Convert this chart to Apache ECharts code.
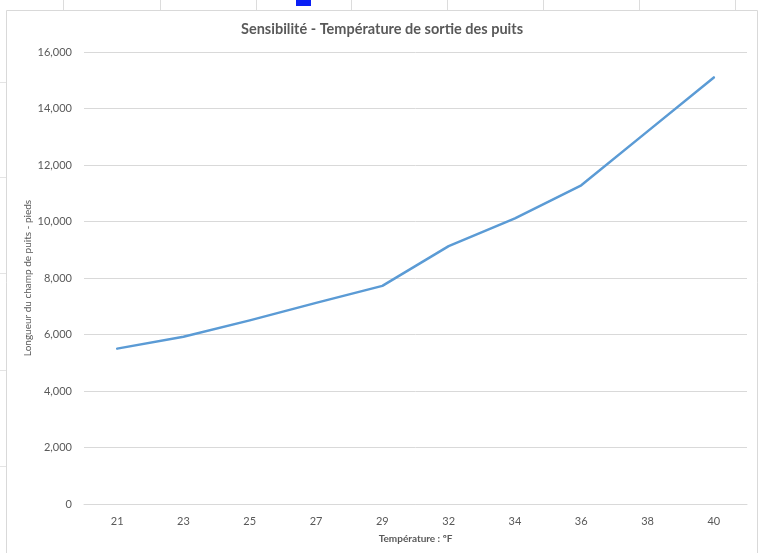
<!DOCTYPE html>
<html>
<head>
<meta charset="utf-8">
<script src="https://cdn.jsdelivr.net/npm/echarts@6/dist/echarts.min.js"></script>
<style>
  html, body { margin: 0; padding: 0; background: #ffffff; }
  #chart { width: 759px; height: 553px; }
</style>
</head>
<body>
<div id="chart"></div>
<script>
// Well-field outlet temperature sensitivity: field length (ft) per temperature (°F)
const temperatures = ['21', '23', '25', '27', '29', '32', '34', '36', '38', '40'];
const fieldLength = [5500, 5920, 6500, 7120, 7720, 9130, 10110, 11280, 13190, 15100];
const yTicks = [0, 2000, 4000, 6000, 8000, 10000, 12000, 14000, 16000];

const chartTitle = 'Sensibilité - Température de sortie des puits';
const xName = 'Température : ºF';
const yName = 'Longueur du champ de puits - pieds';

const FONT = 'Lato, "Open Sans", sans-serif';
const TEXT = '#595959';
const GRID = '#d9d9d9';

const chart = echarts.init(document.getElementById('chart'), null, { renderer: 'canvas' });

// Sheet cell lines visible around the embedded chart frame
const sheetLines = [];
[63, 160, 256, 351, 447, 543, 639, 735].forEach(function (x) {
  sheetLines.push({ type: 'line', shape: { x1: x + 0.5, y1: 0, x2: x + 0.5, y2: 10 },
    style: { stroke: '#dcdcdc', lineWidth: 1 }, silent: true, z: -10 });
});
[82, 177, 273, 370, 466].forEach(function (y) {
  sheetLines.push({ type: 'line', shape: { x1: 0, y1: y + 0.5, x2: 6, y2: y + 0.5 },
    style: { stroke: '#e4e4e4', lineWidth: 1 }, silent: true, z: -10 });
});

chart.setOption({
  backgroundColor: '#ffffff',
  animation: false,
  graphic: sheetLines.concat([
    { type: 'rect', shape: { x: 296, y: 0, width: 15, height: 6 },
      style: { fill: '#0a1ff5' }, silent: true, z: -5 },
    { type: 'rect', shape: { x: 6.5, y: 10.5, width: 751, height: 560 },
      style: { fill: 'transparent', stroke: '#d9d9d9', lineWidth: 1 }, silent: true, z: -5 }
  ]),
  title: {
    text: chartTitle,
    left: 241,
    top: 22,
    padding: 0,
    textStyle: { fontFamily: FONT, fontSize: 14.5, fontWeight: 'bold', color: TEXT }
  },
  grid: { left: 84, right: 12, top: 52, bottom: 49, containLabel: false, outerBoundsMode: 'none' },
  xAxis: {
    type: 'category',
    data: temperatures,
    boundaryGap: true,
    name: xName,
    nameLocation: 'middle',
    nameGap: 30,
    nameMoveOverlap: false,
    nameTextStyle: { fontFamily: FONT, fontSize: 10, color: TEXT, fontWeight: 'bold' },
    axisLine: { lineStyle: { color: GRID, width: 1 } },
    axisTick: { show: false },
    axisLabel: { fontFamily: FONT, fontSize: 11, color: TEXT, margin: 12 }
  },
  yAxis: {
    type: 'value',
    min: yTicks[0],
    max: yTicks[yTicks.length - 1],
    interval: yTicks[1] - yTicks[0],
    name: yName,
    nameLocation: 'middle',
    nameGap: 51,
    nameRotate: 90,
    nameMoveOverlap: false,
    nameTextStyle: { fontFamily: FONT, fontSize: 10, color: TEXT },
    axisLine: { show: false },
    axisTick: { show: false },
    splitLine: { lineStyle: { color: GRID, width: 1 } },
    axisLabel: {
      fontFamily: FONT, fontSize: 11, color: TEXT, margin: 12,
      formatter: function (v) { return v.toLocaleString('en-US'); }
    }
  },
  series: [{
    type: 'line',
    data: fieldLength,
    showSymbol: false,
    symbol: 'none',
    lineStyle: { color: '#5b9bd5', width: 2.5, cap: 'round', join: 'round' }
  }]
});
</script>
</body>
</html>
